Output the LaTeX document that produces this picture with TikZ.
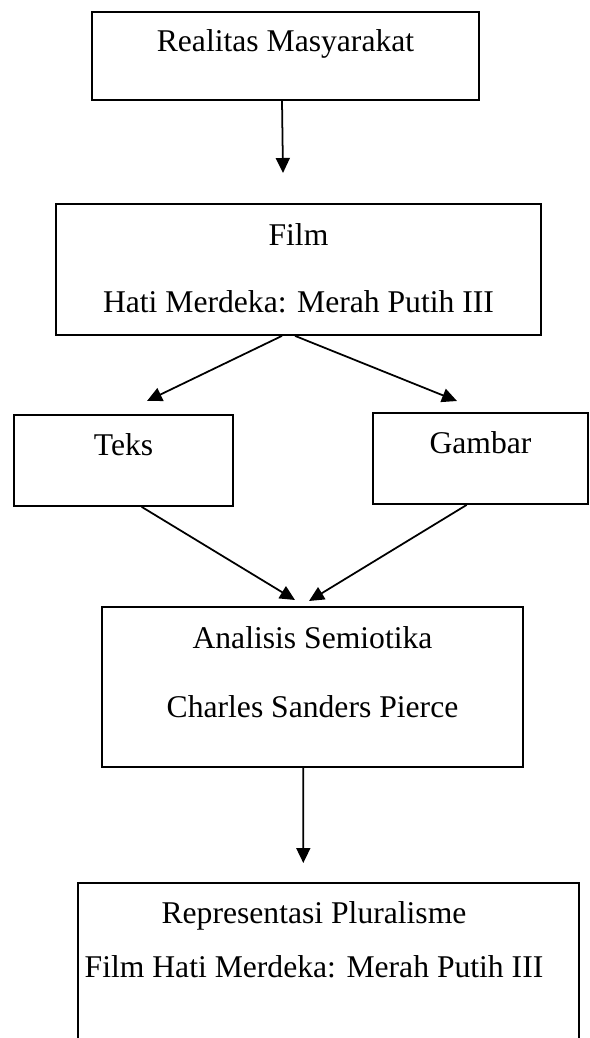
\documentclass[tikz,border=0pt]{standalone}
\usepackage{fontspec}
\setmainfont{Liberation Serif}
\usetikzlibrary{arrows.meta,positioning}

\begin{document}
\begin{tikzpicture}[x=0.03cm,y=-0.03cm,
          kotak/.style={draw,line width=1.5pt,inner sep=0pt},
          tulisan/.style={font=\fontsize{27}{32}\selectfont,inner sep=0pt,anchor=base},
          panah/.style={line width=1.5pt,-{Triangle[length=0.45cm,width=0.42cm]}}]
          \useasboundingbox (0,0) rectangle (590,1038);
          \clip (0,0) rectangle (590,1038);
          % kotak
          \node[kotak,minimum width=11.61cm,minimum height=2.64cm] (realitas) at (285.5,56) {};
          \node[kotak,minimum width=14.55cm,minimum height=3.93cm] (film) at (298.5,269.5) {};
          \node[kotak,minimum width=6.57cm,minimum height=2.73cm] (teks) at (123.5,460.5) {};
          \node[kotak,minimum width=6.45cm,minimum height=2.73cm] (gambar) at (480.5,458.5) {};
          \node[kotak,minimum width=12.63cm,minimum height=4.8cm] (analisis) at (312.5,687) {};
          \node[kotak,minimum width=15.03cm,minimum height=5.31cm] (hasil) at (328.5,971.5) {};
          % tulisan
          \node[tulisan] (realitasA) at (285.5,52) {Realitas Masyarakat};
          \node[tulisan] (filmA) at (298.5,245) {Film};
          \node[tulisan] (filmB) at (298.5,312) {Hati Merdeka: Merah Putih III};
          \node[tulisan] (teksA) at (123.5,455) {Teks};
          \node[tulisan] (gambarA) at (480.5,453) {Gambar};
          \node[tulisan] (analisisA) at (312.5,648) {Analisis Semiotika};
          \node[tulisan] (analisisB) at (312.5,717) {Charles Sanders Pierce};
          \node[tulisan] (hasilA) at (314,923) {Representasi Pluralisme};
          \node[tulisan] (hasilB) at (314,977) {Film Hati Merdeka: Merah Putih III};
          % ujung panah
          \coordinate (u1) at (283,173);
          \coordinate (u2) at (147,401);
          \coordinate (u3) at (457,401);
          \coordinate (u4) at (295,600);
          \coordinate (u5) at (309,601);
          \coordinate (u6) at (303.3,863);
          \draw[panah] ([xshift=-0.105cm]realitas.south) -- (u1);
          \draw[panah] ([xshift=-0.495cm]film.south) -- (u2);
          \draw[panah] ([xshift=-0.105cm]film.south) -- (u3);
          \draw[panah] ([xshift=0.546cm]teks.south) -- (u4);
          \draw[panah] ([xshift=-0.414cm]gambar.south) -- (u5);
          \draw[panah] ([xshift=-0.276cm]analisis.south) -- (u6);
        \end{tikzpicture}
\end{document}
